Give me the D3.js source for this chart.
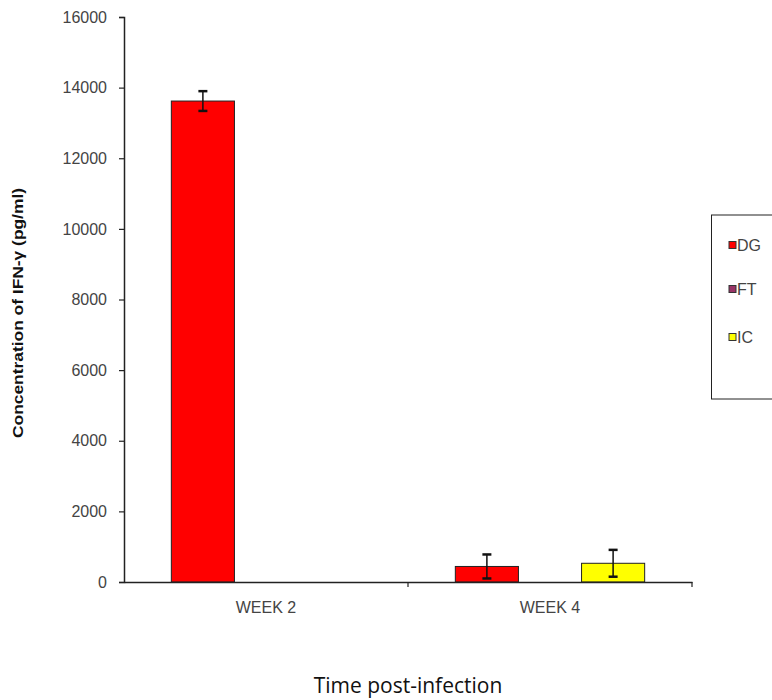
<!DOCTYPE html>
<html>
<head>
<meta charset="utf-8">
<script src="https://cdn.jsdelivr.net/npm/d3@7"></script>
<style>
  html, body { margin: 0; padding: 0; background: #fff; }
  svg { display: block; }
</style>
</head>
<body>
<script>
// ---- data ----
const categories = ["WEEK 2", "WEEK 4"];
const seriesNames = ["DG", "FT", "IC"];
const seriesColors = ["#FF0000", "#993366", "#FFFF00"];
const dgValues = [13620, 440];
const ftValues = [0, 0];
const icValues = [0, 530];
const dgErrors = [280, 340];
const ftErrors = [null, null];
const icErrors = [null, 380];
const yTicks = [0, 2000, 4000, 6000, 8000, 10000, 12000, 14000, 16000];
const yTitle = "Concentration of IFN-\u03b3 (pg/ml)";
const xTitle = "Time post-infection";

const seriesValues = [dgValues, ftValues, icValues];
const seriesErrors = [dgErrors, ftErrors, icErrors];

const W = 772, H = 700;
const mLeft = 124, mRight = 692, mTop = 17, mBottom = 582;

const svg = d3.select("body").append("svg").attr("width", W).attr("height", H);

const x0 = d3.scaleBand().domain(categories).range([mLeft, mRight]).paddingInner(0).paddingOuter(0);
const x1 = d3.scaleBand().domain(seriesNames).range([0, x0.bandwidth()]).paddingInner(0).paddingOuter(0.75);
const y = d3.scaleLinear().domain([0, 16000]).range([mBottom, mTop]);

// bars
categories.forEach((c, ci) => {
  seriesNames.forEach((s, si) => {
    const v = seriesValues[si][ci];
    if (v > 0) {
      svg.append("rect")
        .attr("x", x0(c) + x1(s))
        .attr("y", y(v))
        .attr("width", x1.bandwidth())
        .attr("height", y(0) - y(v))
        .attr("fill", seriesColors[si])
        .attr("stroke", "#222")
        .attr("stroke-width", 1);
    }
  });
});

// error bars
categories.forEach((c, ci) => {
  seriesNames.forEach((s, si) => {
    const v = seriesValues[si][ci];
    const e = seriesErrors[si][ci];
    if (e != null && v > 0) {
      const cx = x0(c) + x1(s) + x1.bandwidth() / 2;
      const g = svg.append("g").attr("stroke", "#111").attr("stroke-width", 1.5);
      g.append("line").attr("x1", cx).attr("x2", cx).attr("y1", y(v + e)).attr("y2", y(v - e));
      g.append("line").attr("x1", cx - 4.5).attr("x2", cx + 4.5).attr("y1", y(v + e)).attr("y2", y(v + e)).attr("stroke-width", 2.5);
      g.append("line").attr("x1", cx - 4.5).attr("x2", cx + 4.5).attr("y1", y(v - e)).attr("y2", y(v - e)).attr("stroke-width", 2.5);
    }
  });
});

// y axis
const yAxis = svg.append("g").attr("transform", `translate(${mLeft},0)`)
  .call(d3.axisLeft(y).tickValues(yTicks).tickSize(5).tickPadding(12).tickFormat(d3.format("d")));
yAxis.select(".domain").attr("stroke", "#222").attr("stroke-width", 1.5);
yAxis.selectAll(".tick line").attr("stroke", "#222").attr("stroke-width", 1.2);
yAxis.selectAll(".tick text").attr("font-family", "Liberation Sans, Arial, sans-serif")
  .attr("font-size", 16).attr("fill", "#444");

// x axis
const xAxis = svg.append("g").attr("transform", `translate(0,${mBottom})`)
  .call(d3.axisBottom(x0).tickSize(0).tickPadding(20));
xAxis.select(".domain").attr("stroke", "#222").attr("stroke-width", 1.5);
xAxis.selectAll(".tick text").attr("font-family", "Liberation Sans, Arial, sans-serif")
  .attr("font-size", 16).attr("fill", "#444");
// category boundary ticks
const bounds = [x0(categories[0]) + x0.bandwidth(), mRight];
svg.append("g").selectAll("line").data(bounds).join("line")
  .attr("x1", d => d).attr("x2", d => d)
  .attr("y1", mBottom).attr("y2", mBottom + 5)
  .attr("stroke", "#222").attr("stroke-width", 1.2);

// y title
svg.append("text")
  .attr("transform", `translate(23,${313}) rotate(-90)`)
  .attr("text-anchor", "middle")
  .attr("font-family", "Liberation Sans, Arial, sans-serif")
  .attr("font-weight", "bold")
  .attr("font-size", 14.5)
  .attr("textLength", 250)
  .attr("lengthAdjust", "spacingAndGlyphs")
  .attr("fill", "#111")
  .text(yTitle);

// x title
svg.append("text")
  .attr("x", 408).attr("y", 693)
  .attr("text-anchor", "middle")
  .attr("font-family", "Open Sans, Lato, sans-serif")
  .attr("font-size", 21)
  .attr("fill", "#111")
  .text(xTitle);

// legend
const lg = svg.append("g");
lg.append("rect").attr("x", 711.5).attr("y", 215).attr("width", 80).attr("height", 184)
  .attr("fill", "#fff").attr("stroke", "#222").attr("stroke-width", 1);
const legendY = [245, 289, 337];
seriesNames.forEach((s, i) => {
  lg.append("rect").attr("x", 729).attr("y", legendY[i] - 3.5).attr("width", 7).attr("height", 7)
    .attr("fill", seriesColors[i]).attr("stroke", "#333").attr("stroke-width", 1);
  lg.append("text").attr("x", 737).attr("y", legendY[i] + 6)
    .attr("font-family", "Liberation Sans, Arial, sans-serif")
    .attr("font-size", 16).attr("fill", "#444").text(s);
});
</script>
</body>
</html>
